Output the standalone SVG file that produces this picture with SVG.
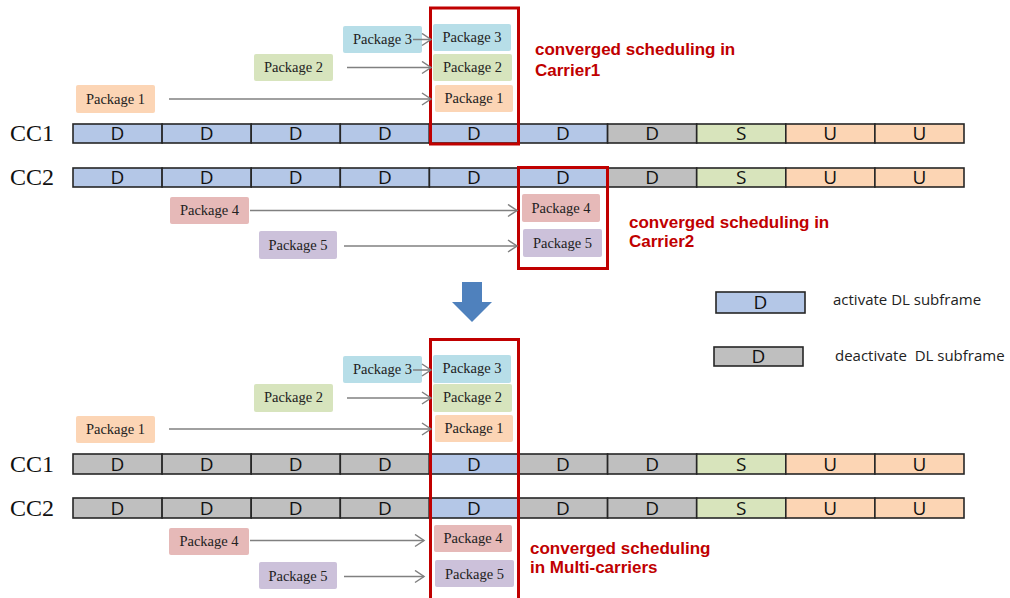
<svg xmlns="http://www.w3.org/2000/svg" width="1010" height="598" viewBox="0 0 1010 598">
<defs>
<marker id="ah" markerUnits="userSpaceOnUse" markerWidth="12" markerHeight="14" refX="10" refY="7" orient="auto">
<path d="M1,1 L10,7 L1,13" fill="none" stroke="#808080" stroke-width="1.5"/>
</marker>
<style>
.cell{stroke:#262626;stroke-width:1.6}
.b{fill:#B4C7E7}.g{fill:#BFBFBF}.s{fill:#D8E4BC}.u{fill:#FCD5B4}
.ct{font-family:"Open Sans","Noto Sans",sans-serif;font-size:19px;fill:#111;text-anchor:middle}
.cc{font-family:"Liberation Serif",serif;font-size:24px;fill:#111}
.pk{font-family:"Liberation Serif",serif;font-size:14.5px;fill:#222;text-anchor:middle}
.p1{fill:#FCD5B5}.p2{fill:#D7E4BD}.p3{fill:#B7DEE8}.p4{fill:#E6B9B8}.p5{fill:#CCC1DA}
.con line{stroke:#808080;stroke-width:1.5;marker-end:url(#ah)}
.red{fill:none;stroke:#C00000;stroke-width:3}
.rt{font-family:"Liberation Sans",sans-serif;font-weight:bold;font-size:17px;fill:#C00000}
.lg{font-family:"Open Sans","Noto Sans",sans-serif;font-size:15px;fill:#222}
</style>
</defs>
<rect width="1010" height="598" fill="#fff"/>

<!-- TOP SECTION -->
<g id="top-packages">
<g id="t-p3a"><rect class="p3" x="343" y="26" width="79" height="27" rx="2"/><text class="pk" x="382.5" y="44">Package 3</text></g>
<g id="t-p3b"><rect class="p3" x="433" y="24" width="78" height="27" rx="2"/><text class="pk" x="472" y="42">Package 3</text></g>
<g id="t-p2a"><rect class="p2" x="254" y="54" width="79" height="27" rx="2"/><text class="pk" x="293.5" y="72">Package 2</text></g>
<g id="t-p2b"><rect class="p2" x="433" y="54" width="79" height="27" rx="2"/><text class="pk" x="472.5" y="72">Package 2</text></g>
<g id="t-p1a"><rect class="p1" x="76" y="85" width="79" height="28" rx="2"/><text class="pk" x="115.5" y="104">Package 1</text></g>
<g id="t-p1b"><rect class="p1" x="435" y="85" width="78" height="27" rx="2"/><text class="pk" x="474" y="103">Package 1</text></g>
<g id="t-p4a"><rect class="p4" x="170" y="197" width="79" height="27" rx="2"/><text class="pk" x="209.5" y="215">Package 4</text></g>
<g id="t-p4b"><rect class="p4" x="522" y="194" width="78" height="28" rx="2"/><text class="pk" x="561" y="213">Package 4</text></g>
<g id="t-p5a"><rect class="p5" x="259" y="231" width="78" height="28" rx="2"/><text class="pk" x="298" y="250">Package 5</text></g>
<g id="t-p5b"><rect class="p5" x="523" y="229" width="79" height="28" rx="2"/><text class="pk" x="562.5" y="248">Package 5</text></g>
</g>

<g id="t-cc1">
<text class="cc" x="10" y="141">CC1</text>
<rect class="cell b" x="73" y="124" width="89.1" height="19"/>
<rect class="cell b" x="162.1" y="124" width="89.1" height="19"/>
<rect class="cell b" x="251.2" y="124" width="89.1" height="19"/>
<rect class="cell b" x="340.3" y="124" width="89.1" height="19"/>
<rect class="cell b" x="429.4" y="124" width="89.1" height="19"/>
<rect class="cell b" x="518.5" y="124" width="89.1" height="19"/>
<rect class="cell g" x="607.6" y="124" width="89.1" height="19"/>
<rect class="cell s" x="696.7" y="124" width="89.1" height="19"/>
<rect class="cell u" x="785.8" y="124" width="89.1" height="19"/>
<rect class="cell u" x="874.9" y="124" width="89.1" height="19"/>
<text class="ct" x="117.5" y="140">D</text><text class="ct" x="206.6" y="140">D</text><text class="ct" x="295.7" y="140">D</text><text class="ct" x="384.8" y="140">D</text><text class="ct" x="473.9" y="140">D</text><text class="ct" x="563" y="140">D</text><text class="ct" x="652.1" y="140">D</text><text class="ct" x="741.2" y="140">S</text><text class="ct" x="830.3" y="140">U</text><text class="ct" x="919.4" y="140">U</text>
</g>

<g id="t-cc2">
<text class="cc" x="10" y="185">CC2</text>
<rect class="cell b" x="73" y="168" width="89.1" height="19"/>
<rect class="cell b" x="162.1" y="168" width="89.1" height="19"/>
<rect class="cell b" x="251.2" y="168" width="89.1" height="19"/>
<rect class="cell b" x="340.3" y="168" width="89.1" height="19"/>
<rect class="cell b" x="429.4" y="168" width="89.1" height="19"/>
<rect class="cell b" x="518.5" y="168" width="89.1" height="19"/>
<rect class="cell g" x="607.6" y="168" width="89.1" height="19"/>
<rect class="cell s" x="696.7" y="168" width="89.1" height="19"/>
<rect class="cell u" x="785.8" y="168" width="89.1" height="19"/>
<rect class="cell u" x="874.9" y="168" width="89.1" height="19"/>
<text class="ct" x="117.5" y="184">D</text><text class="ct" x="206.6" y="184">D</text><text class="ct" x="295.7" y="184">D</text><text class="ct" x="384.8" y="184">D</text><text class="ct" x="473.9" y="184">D</text><text class="ct" x="563" y="184">D</text><text class="ct" x="652.1" y="184">D</text><text class="ct" x="741.2" y="184">S</text><text class="ct" x="830.3" y="184">U</text><text class="ct" x="919.4" y="184">U</text>
</g>

<g id="t-boxes">
<rect class="red" x="430.5" y="8" width="88" height="136"/>
<rect class="red" x="518.5" y="167.5" width="89" height="101"/>
<text class="rt" x="535" y="55">converged scheduling in</text>
<text class="rt" x="535" y="76">Carrier1</text>
<text class="rt" x="629" y="228">converged scheduling in</text>
<text class="rt" x="629" y="247">Carrier2</text>
</g>

<!-- big arrow -->
<g id="down-arrow">
<path d="M462,282 H482 V302 H492 L472,322 L452,302 H462 Z" fill="#4F81BD"/>
</g>

<!-- legend -->
<g id="legend-active">
<rect class="cell b" x="716" y="292" width="89" height="21"/>
<text class="ct" x="760.5" y="309">D</text>
<text class="lg" x="833" y="305">activate DL subframe</text>
</g>
<g id="legend-deactive">
<rect class="cell g" x="714" y="347" width="89" height="19"/>
<text class="ct" x="758.5" y="363">D</text>
<text class="lg" x="835" y="361" xml:space="preserve">deactivate  DL subframe</text>
</g>

<!-- BOTTOM SECTION -->
<g id="bottom-packages">
<g id="b-p3a"><rect class="p3" x="343" y="356" width="79" height="27" rx="2"/><text class="pk" x="382.5" y="374">Package 3</text></g>
<g id="b-p3b"><rect class="p3" x="433" y="355" width="78" height="28" rx="2"/><text class="pk" x="472" y="373">Package 3</text></g>
<g id="b-p2a"><rect class="p2" x="254" y="384" width="79" height="28" rx="2"/><text class="pk" x="293.5" y="402">Package 2</text></g>
<g id="b-p2b"><rect class="p2" x="433" y="384" width="79" height="28" rx="2"/><text class="pk" x="472.5" y="402">Package 2</text></g>
<g id="b-p1a"><rect class="p1" x="76" y="416" width="79" height="27" rx="2"/><text class="pk" x="115.5" y="434">Package 1</text></g>
<g id="b-p1b"><rect class="p1" x="435" y="415" width="78" height="27" rx="2"/><text class="pk" x="474" y="433">Package 1</text></g>
<g id="b-p4a"><rect class="p4" x="169" y="528" width="80" height="27" rx="2"/><text class="pk" x="209" y="546">Package 4</text></g>
<g id="b-p4b"><rect class="p4" x="434" y="525" width="78" height="27" rx="2"/><text class="pk" x="473" y="543">Package 4</text></g>
<g id="b-p5a"><rect class="p5" x="259" y="562" width="78" height="27" rx="2"/><text class="pk" x="298" y="581">Package 5</text></g>
<g id="b-p5b"><rect class="p5" x="435" y="560" width="79" height="27" rx="2"/><text class="pk" x="474.5" y="579">Package 5</text></g>
</g>

<g id="b-cc1">
<text class="cc" x="10" y="472">CC1</text>
<rect class="cell g" x="73" y="454" width="89.1" height="20"/>
<rect class="cell g" x="162.1" y="454" width="89.1" height="20"/>
<rect class="cell g" x="251.2" y="454" width="89.1" height="20"/>
<rect class="cell g" x="340.3" y="454" width="89.1" height="20"/>
<rect class="cell b" x="429.4" y="454" width="89.1" height="20"/>
<rect class="cell g" x="518.5" y="454" width="89.1" height="20"/>
<rect class="cell g" x="607.6" y="454" width="89.1" height="20"/>
<rect class="cell s" x="696.7" y="454" width="89.1" height="20"/>
<rect class="cell u" x="785.8" y="454" width="89.1" height="20"/>
<rect class="cell u" x="874.9" y="454" width="89.1" height="20"/>
<text class="ct" x="117.5" y="471">D</text><text class="ct" x="206.6" y="471">D</text><text class="ct" x="295.7" y="471">D</text><text class="ct" x="384.8" y="471">D</text><text class="ct" x="473.9" y="471">D</text><text class="ct" x="563" y="471">D</text><text class="ct" x="652.1" y="471">D</text><text class="ct" x="741.2" y="471">S</text><text class="ct" x="830.3" y="471">U</text><text class="ct" x="919.4" y="471">U</text>
</g>

<g id="b-cc2">
<text class="cc" x="10" y="516">CC2</text>
<rect class="cell g" x="73" y="498" width="89.1" height="20"/>
<rect class="cell g" x="162.1" y="498" width="89.1" height="20"/>
<rect class="cell g" x="251.2" y="498" width="89.1" height="20"/>
<rect class="cell g" x="340.3" y="498" width="89.1" height="20"/>
<rect class="cell b" x="429.4" y="498" width="89.1" height="20"/>
<rect class="cell g" x="518.5" y="498" width="89.1" height="20"/>
<rect class="cell g" x="607.6" y="498" width="89.1" height="20"/>
<rect class="cell s" x="696.7" y="498" width="89.1" height="20"/>
<rect class="cell u" x="785.8" y="498" width="89.1" height="20"/>
<rect class="cell u" x="874.9" y="498" width="89.1" height="20"/>
<text class="ct" x="117.5" y="515">D</text><text class="ct" x="206.6" y="515">D</text><text class="ct" x="295.7" y="515">D</text><text class="ct" x="384.8" y="515">D</text><text class="ct" x="473.9" y="515">D</text><text class="ct" x="563" y="515">D</text><text class="ct" x="652.1" y="515">D</text><text class="ct" x="741.2" y="515">S</text><text class="ct" x="830.3" y="515">U</text><text class="ct" x="919.4" y="515">U</text>
</g>

<g id="b-boxes">
<rect class="red" x="430.5" y="339.5" width="88" height="270"/>
<text class="rt" x="530" y="554">converged scheduling</text>
<text class="rt" x="530" y="573">in Multi-carriers</text>
</g>

<g id="connectors" class="con">
<line x1="413" y1="39.5" x2="431" y2="39.5"/>
<line x1="347" y1="67.5" x2="431" y2="67.5"/>
<line x1="169" y1="99" x2="431" y2="99"/>
<line x1="250" y1="210.5" x2="517" y2="210.5"/>
<line x1="344" y1="246" x2="517" y2="246"/>
<line x1="413" y1="370" x2="431" y2="370"/>
<line x1="347" y1="398" x2="431" y2="398"/>
<line x1="169" y1="429" x2="431" y2="429"/>
<line x1="250" y1="540.5" x2="424" y2="540.5"/>
<line x1="344" y1="576.5" x2="424" y2="576.5"/>
</g>
</svg>
